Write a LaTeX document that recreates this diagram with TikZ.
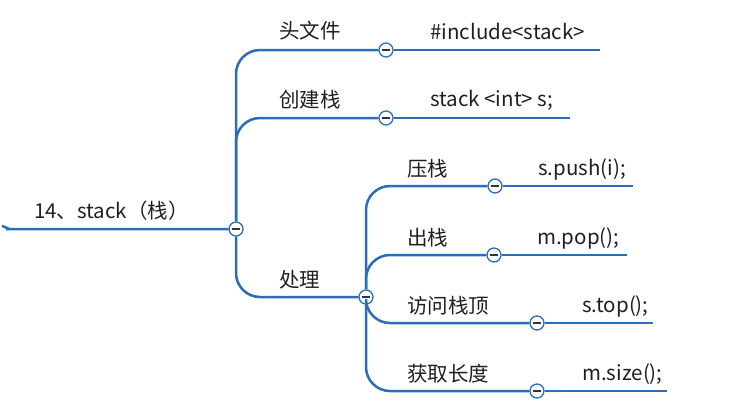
\documentclass[tikz,border=0pt]{standalone}
\usepackage{fontspec}
\setmainfont{Noto Sans CJK SC}
\definecolor{mapblue}{RGB}{42,110,186}

\begin{document}
\begin{tikzpicture}[x=1pt,y=-1pt,
      every node/.style={inner sep=0pt,font=\fontsize{20.5}{24}\selectfont,text=black!88},
      toggle/.style={circle,draw=mapblue,fill=white,line width=1.3pt,minimum size=14pt,
        path picture={\draw[black!80,line width=1.4pt]
          ([xshift=-3.6pt]path picture bounding box.center) -- ([xshift=3.6pt]path picture bounding box.center);}},
      branch/.style={draw=mapblue,line width=2.5pt,rounded corners=24pt},
      lbl/.style={anchor=west}]
      \useasboundingbox (0,0) rectangle (733,418);
      \node[toggle] (c0) at (236,229) {};
      \node[toggle] (c1) at (386,50) {};
      \node[toggle] (c2) at (386,118) {};
      \node[toggle] (c3) at (366,297) {};
      \node[toggle] (c31) at (495,186) {};
      \node[toggle] (c32) at (494,255) {};
      \node[toggle] (c33) at (537,323) {};
      \node[toggle] (c34) at (537,391) {};
      \coordinate (r0) at (2,226);
      \coordinate (e1) at (600,50);
      \coordinate (e2) at (570,118);
      \coordinate (e31) at (633,186);
      \coordinate (e32) at (627,255);
      \coordinate (e33) at (653,323);
      \coordinate (e34) at (667,391);
      \draw[branch] (r0) .. controls (10,229) .. (30,229) -- (c0.west);
      \draw[branch] (c0.north) |- (c1.west);
      \draw[branch] (c0.north) |- (c2.west);
      \draw[branch] (c0.south) |- (c3.west);
      \draw[branch] (c3.north) |- (c31.west);
      \draw[branch] (c3.north) |- (c32.west);
      \draw[branch] (c3.south) |- (c33.west);
      \draw[branch] (c3.south) |- (c34.west);
      \foreach \a/\b in {c1/e1,c2/e2,c31/e31,c32/e32,c33/e33,c34/e34}
        \draw[branch] (\a.east) -- (\b);
      \node[lbl] (root) at (34,211) {14、stack（栈）};
      \node[lbl] (t1) at (279,31) {头文件};
      \node[lbl] (v1) at (430,31) {\#include<stack>};
      \node[lbl] (t2) at (279,100) {创建栈};
      \node[lbl] (v2) at (430,100) {stack <int> s;};
      \node[lbl] (t3) at (279,280) {处理};
      \node[lbl] (t31) at (407,169) {压栈};
      \node[lbl] (v31) at (538,169) {s.push(i);};
      \node[lbl] (t32) at (407,238) {出栈};
      \node[lbl] (v32) at (537,238) {m.pop();};
      \node[lbl] (t33) at (407,306) {访问栈顶};
      \node[lbl] (v33) at (582,306) {s.top();};
      \node[lbl] (t34) at (407,374) {获取长度};
      \node[lbl] (v34) at (582,374) {m.size();};
\end{tikzpicture}
\end{document}
